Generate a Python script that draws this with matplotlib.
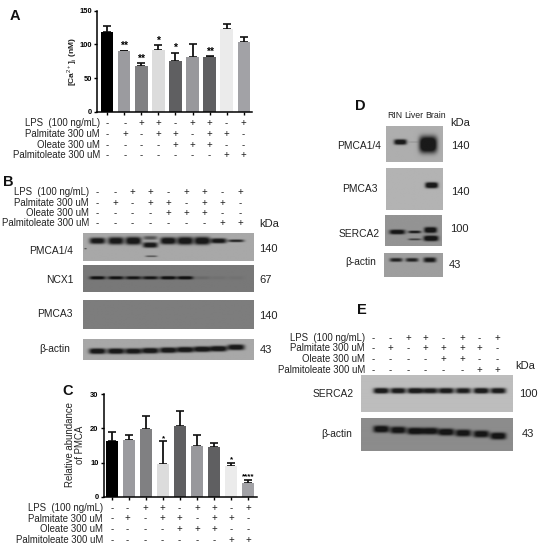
import numpy as np
import matplotlib
matplotlib.use("Agg")
import matplotlib.pyplot as plt

plt.rcParams["font.family"] = ["Liberation Sans", "DejaVu Sans"]
plt.rcParams["mathtext.fontset"] = "custom"
plt.rcParams["mathtext.rm"] = "Liberation Sans"
plt.rcParams["mathtext.bf"] = "Liberation Sans:bold"

W, H = 545, 550

# panel A
a_values = [118, 90, 68, 92, 76, 81, 81.5, 123, 103]
a_tops = [128, 91, 73, 99, 88, 101, 83, 131, 111]
a_stars = ["", "**", "**", "*", "*", "", "**", "", ""]

# panel C
c_values = [16.2, 16.6, 19.7, 9.6, 20.6, 15, 14.5, 8.9, 3.9]
c_tops = [18.9, 18.2, 23.7, 16.3, 25, 18.2, 15.6, 10, 5]
c_stars = ["", "", "", "*", "", "", "", "*", "****"]

bar_colors = ["#000000", "#9b9b9f", "#808082", "#dcdcdc", "#5f5f61",
              "#98989c", "#5f5f61", "#ebebeb", "#a2a2a6"]

row_labels = ["LPS  (100 ng/mL)", "Palmitate 300 uM", "Oleate 300 uM", "Palmitoleate 300 uM"]
rows_nine = ["--++-++-+", "-+-++-++-", "----+++--", "-------++"]
rows_eight = ["--++-+-+", "-+-++++-", "----++--", "------++"]

lanes_b = [97, 115.5, 133, 150, 168, 185, 202, 218.5, 236]
lanes_e = [381, 398, 415, 430, 446, 463, 481, 498]

pmca14_b = [0.95, 0.95, 1.0, 0.9, 1.0, 1.0, 1.0, 0.95, 0.8]
pmca14_b_h = [3.2, 3.8, 4, 2.5, 3.6, 4, 4, 2.6, 1.4]
ncx1_b = [0.95, 0.9, 0.85, 0.85, 1.0, 1.0, 0.12, 0.06, 0.05]
actin_b = [1.0, 1.0, 0.95, 1.0, 1.0, 1.0, 1.0, 1.0, 1.0]
actin_b_y = [351.5, 351.5, 351.5, 351, 350.5, 350, 349.5, 349, 347.5]
serca_e = [1.0, 0.95, 1.0, 0.9, 0.95, 0.9, 1.0, 0.95]
actin_e = [1.0, 0.95, 1.0, 0.95, 1.0, 0.95, 0.95, 1.0]
actin_e_y = [429, 430, 431, 431, 432, 433, 434, 436]


fig = plt.figure(figsize=(W / 100, H / 100), dpi=100, facecolor="white")
canvas = fig.add_axes([0, 0, 1, 1], zorder=0)
canvas.set_xlim(0, W)
canvas.set_ylim(H, 0)
canvas.axis("off")


def blot(x0, y0, x1, y1, bg, bands):
    xs = np.arange(x0, x1 + 0.5, 0.5)
    ys = np.arange(y0, y1 + 0.5, 0.5)
    X, Y = np.meshgrid(xs, ys)
    total = np.zeros_like(X)
    for cx, cy, w, h, dark in bands:
        total += dark * np.exp(-(np.abs(X - cx) / w) ** 4 - (np.abs(Y - cy) / h) ** 3)
    img = bg * (1 - np.clip(total, 0, 0.85))
    canvas.imshow(img, extent=(x0, x1, y1, y0), cmap="gray", vmin=0, vmax=1,
                  aspect="auto", interpolation="bilinear", zorder=1)


def conditions(rows, xs, ys, label_x, size=6.9):
    for label, row, y in zip(row_labels, rows, ys):
        canvas.text(label_x, y, label, ha="right", va="center", fontsize=size, color="#222222")
        for x, sign in zip(xs, row):
            canvas.text(x, y, sign, ha="center", va="center", fontsize=size, color="#222222")


def bars(box, xlim, ylim, yticks, values, tops, stars, star_size):
    left, top, right, bottom = box
    ax = fig.add_axes([left / W, 1 - bottom / H, (right - left) / W, (bottom - top) / H], zorder=2)
    ax.patch.set_alpha(0)
    x = np.arange(len(values))
    vals = np.array(values)
    ax.errorbar(x, vals, yerr=[np.zeros(len(vals)), np.array(tops) - vals], fmt="none",
                ecolor="#111111", elinewidth=1.3, capsize=2.6, capthick=1.2, zorder=1)
    ax.bar(x, vals, width=0.72, color=bar_colors, zorder=2)
    for i, s in enumerate(stars):
        if s:
            ax.annotate(s, (i, tops[i]), xytext=(0, -0.5), textcoords="offset points",
                        ha="center", va="bottom", fontsize=star_size, fontweight="bold")
    ax.set_xlim(*xlim)
    ax.set_ylim(*ylim)
    ax.set_xticks(x, [""] * len(x))
    ax.set_yticks(yticks)
    ax.tick_params(width=1, length=2.5, labelsize=5.4, pad=1.2)
    for t in ax.get_yticklabels():
        t.set_fontweight("bold")
    for side in ("top", "right"):
        ax.spines[side].set_visible(False)
    for side in ("left", "bottom"):
        ax.spines[side].set_linewidth(1.1)
    return ax


# panel A bars
bars((97, 10.7, 252, 112), (-0.604, 8.49), (0, 150), [0, 50, 100, 150],
     a_values, a_tops, a_stars, 7.5)
canvas.text(72, 62, r"[Ca$^{2+}$]$_{\mathrm{i}}$ (nM)", rotation=90, ha="center", va="center",
            fontsize=6, fontweight="bold", color="#222222")
conditions(rows_nine, [107, 125, 141, 158, 175.5, 192.5, 209.5, 226, 243.5],
           [123.3, 134, 144.7, 155], 100)

# panel C bars
bars((103.7, 394.3, 256.7, 496.7), (-0.487, 8.49), (0, 30), [0, 10, 20, 30],
     c_values, c_tops, c_stars, 5.8)
canvas.text(75, 445, "Relative abundance\nof PMCA", rotation=90, ha="center", va="center",
            fontsize=6.9, linespacing=1.05, color="#222222")
conditions(rows_nine, [112, 127, 145, 162, 179.5, 197, 214, 231, 248],
           [508, 518.5, 529, 540], 103)

# panel B blots
conditions(rows_nine, [97.7, 115, 132.7, 150.3, 168.3, 186.7, 204.3, 222, 240],
           [192.3, 203, 213.3, 223.3], 89)
b14 = [(x, 241, 8, h, d) for x, h, d in zip(lanes_b, pmca14_b_h, pmca14_b)]
b14[3] = (150, 238, 7, 2, 0.5)
b14 += [(150, 245.3, 7.5, 2.8, 0.95), (151, 256.7, 6, 0.8, 0.55), (85, 249, 1.2, 0.5, 0.7)]
blot(82.7, 233.3, 253.3, 261, 0.66, b14)
blot(82.7, 265.7, 253.3, 292.3, 0.47,
     [(x, 278.5, 8, 1.7, d) for x, d in zip(lanes_b, ncx1_b)])
blot(82.7, 299.7, 253.3, 328.7, 0.49, [])
blot(82.7, 339.3, 253.3, 360.3, 0.66,
     [(x, y, 8.5, 2.9, d) for x, y, d in zip(lanes_b, actin_b_y, actin_b)])

for label, x, y in [("PMCA1/4", 51, 251), ("NCX1", 60, 280), ("PMCA3", 55, 314), ("β-actin", 55, 349)]:
    canvas.text(x, y, label, ha="center", va="center", fontsize=7.4, color="#222222")
for label, y in [("kDa", 224), ("140", 248.5), ("67", 280), ("140", 316), ("43", 350)]:
    canvas.text(259.5, y, label, ha="left", va="center", fontsize=8, color="#222222")

# panel D blots
for label, x in [("RIN", 395), ("Liver", 414), ("Brain", 435.7)]:
    canvas.text(x, 116, label, ha="center", va="center", fontsize=6.3, color="#222222")
blot(385.7, 126, 442.7, 162, 0.68,
     [(400, 142, 6.5, 2.8, 1.0), (413, 142, 5, 0.6, 0.15), (428, 144.5, 9, 8.5, 1.2)])
blot(385.7, 168.3, 442.7, 210.3, 0.7, [(431.5, 185.5, 6.5, 3, 1.1)])
blot(385.3, 215, 442, 246, 0.58,
     [(397.5, 232, 8, 2.4, 1.0), (415, 232, 6.5, 1.4, 0.85), (431, 230, 6.5, 3, 1.05),
      (415, 239.5, 6.5, 1, 0.6), (431.5, 238.5, 7.5, 2.8, 1.1)])
blot(384, 252.7, 442.7, 276.7, 0.62,
     [(396, 259.5, 6.5, 2, 0.8), (412, 259.5, 6.5, 2, 0.8), (430, 259.5, 6.5, 2.6, 0.9)])
for label, x, y in [("PMCA1/4", 359, 146), ("PMCA3", 360, 189), ("SERCA2", 359, 234), ("β-actin", 361, 262)]:
    canvas.text(x, y, label, ha="center", va="center", fontsize=7.4, color="#222222")
for label, x, y in [("kDa", 450.7, 123), ("140", 451, 145.7), ("140", 451, 192), ("100", 449.7, 229), ("43", 449, 264.7)]:
    canvas.text(x, y, label, ha="left", va="center", fontsize=8, color="#222222")

# panel E blots
conditions(rows_eight, [373.3, 390.7, 408, 425.3, 443.3, 462.3, 479.7, 497],
           [338.3, 348.3, 358.7, 370], 365)
blot(361, 375.3, 512.3, 412.3, 0.74,
     [(x, 391, 7.8, 2.9, d) for x, d in zip(lanes_e, serca_e)])
blot(361, 418, 512.3, 451, 0.55,
     [(x, y, 8, 3.6, d) for x, y, d in zip(lanes_e, actin_e_y, actin_e)])
canvas.text(333, 394.3, "SERCA2", ha="center", va="center", fontsize=7.4, color="#222222")
canvas.text(337, 434.3, "β-actin", ha="center", va="center", fontsize=7.4, color="#222222")
for label, x, y in [("kDa", 515.7, 365.7), ("100", 519.3, 394), ("43", 521.7, 434)]:
    canvas.text(x, y, label, ha="left", va="center", fontsize=8, color="#222222")

# panel letters
for label, x, y in [("A", 15, 16), ("B", 8, 182), ("C", 68, 391), ("D", 360, 106), ("E", 362, 310)]:
    canvas.text(x, y, label, ha="center", va="center", fontsize=10.5, fontweight="bold", color="#111111")

canvas.set_xlim(0, W)
canvas.set_ylim(H, 0)
fig.savefig("out.png", dpi=100)
